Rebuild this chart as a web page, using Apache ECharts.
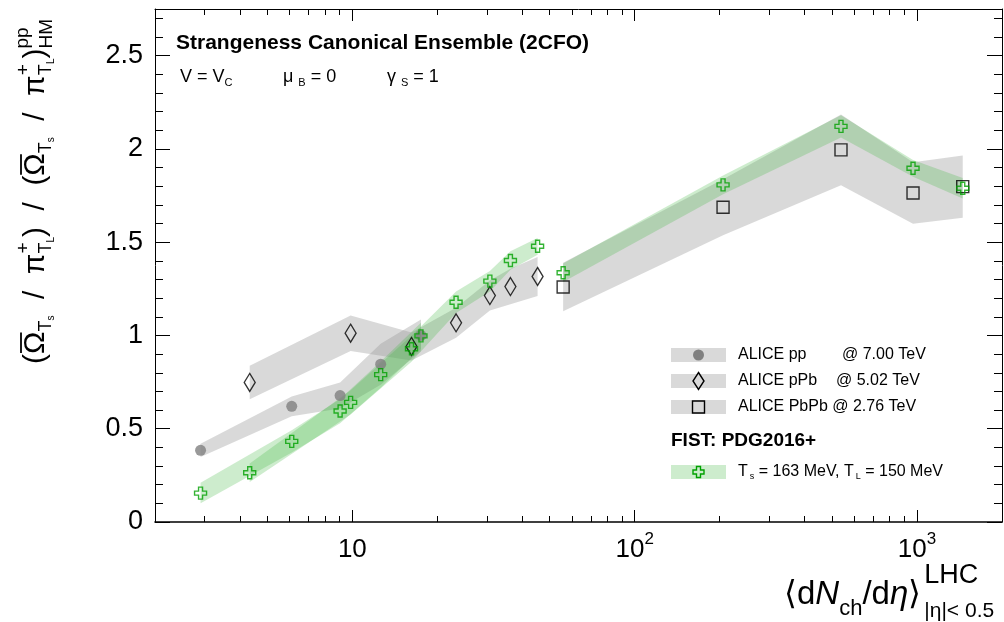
<!DOCTYPE html>
<html>
<head>
<meta charset="utf-8">
<script src="https://cdn.jsdelivr.net/npm/echarts@6/dist/echarts.min.js"></script>
<style>
  html, body { margin: 0; padding: 0; background: #fff; }
  #chart { width: 1004px; height: 622px; }
</style>
</head>
<body>
<div id="chart"></div>
<script>
// ALICE pp @ 7.00 TeV
const ppX   = [2.90, 6.10, 9.05, 12.6, 17.5];
const ppY   = [0.384, 0.620, 0.678, 0.846, 1.000];
const ppErr = [0.035, 0.053, 0.070, 0.110, 0.085];

// ALICE pPb @ 5.02 TeV
const pPbX   = [4.33, 9.86, 16.2, 23.3, 30.7, 36.3, 45.3];
const pPbY   = [0.748, 1.012, 0.941, 1.068, 1.214, 1.262, 1.316];
const pPbErr = [0.090, 0.095, 0.075, 0.080, 0.080, 0.095, 0.105];

// ALICE PbPb @ 2.76 TeV
const pbX   = [55.8, 205.6, 538, 968, 1452];
const pbY   = [1.260, 1.687, 1.995, 1.764, 1.798];
const pbErr = [0.130, 0.150, 0.190, 0.165, 0.167];

// FIST, PDG2016+, Ts = 163 MeV, TL = 150 MeV
const fistPpY     = [0.155, 0.432, 0.595, 0.790, 0.998];
const fistPpErr   = [0.055, 0.060, 0.065, 0.070, 0.070];
const fistPPbY    = [0.264, 0.641, 0.929, 1.178, 1.291, 1.402, 1.478];
const fistPPbErr  = [0.050, 0.065, 0.070, 0.057, 0.055, 0.050, 0.045];
const fistPbY     = [1.336, 1.807, 2.121, 1.896, 1.789];
const fistPbErr   = [0.050, 0.050, 0.060, 0.045, 0.055];

// axis ticks
const xMajorTicks = [10, 100, 1000];
const xMinorTicks = [2, 3, 4, 5, 6, 7, 8, 9, 20, 30, 40, 50, 60, 70, 80, 90,
                     200, 300, 400, 500, 600, 700, 800, 900];
const yMajorTicks = [0, 0.5, 1, 1.5, 2, 2.5];
const yMinorTicks = [0.1, 0.2, 0.3, 0.4, 0.6, 0.7, 0.8, 0.9, 1.1, 1.2, 1.3, 1.4,
                     1.6, 1.7, 1.8, 1.9, 2.1, 2.2, 2.3, 2.4, 2.6, 2.7];

const FONT = '"Liberation Sans", Arial, Helvetica, sans-serif';
const GREY_BAND = 'rgba(150,150,150,0.36)';
const GREEN_BAND = 'rgba(70,185,70,0.27)';
const GREEN = '#00a000';
const CROSS = 'path://M4,0L8,0L8,4L12,4L12,8L8,8L8,12L4,12L4,8L0,8L0,4L4,4Z';

const chart = echarts.init(document.getElementById('chart'), null, { renderer: 'canvas' });

// text layout helpers
const mctx = document.createElement('canvas').getContext('2d');
function textWidth(t, size, italic, bold) {
  mctx.font = (italic ? 'italic ' : '') + (bold ? 'bold ' : '') + size + 'px ' + FONT;
  return mctx.measureText(t).width;
}
function lineOfTokens(x0, y0, toks) {
  const out = [];
  let x = x0, prevX = x0, prevW = 0;
  toks.forEach(k => {
    const w = textWidth(k.t, k.size, k.italic, k.bold);
    let px;
    if (k.stack) {
      px = prevX; prevW = Math.max(prevW, w); x = prevX + prevW;
    } else {
      px = x + (k.gap || 0); prevX = px; prevW = w; x = px + w;
    }
    x += (k.after || 0);
    out.push({
      type: 'text', x: px, y: y0 + (k.dy || 0), silent: true,
      style: {
        text: k.t, fontSize: k.size, fontFamily: FONT,
        fontStyle: k.italic ? 'italic' : 'normal', fontWeight: k.bold ? 'bold' : 'normal',
        fill: '#000', align: 'left', verticalAlign: 'middle'
      }
    });
    if (k.bar) {
      const yb = y0 + (k.dy || 0) - k.size * 0.5;
      out.push({
        type: 'line', silent: true,
        shape: { x1: px + 1, y1: yb, x2: px + w - 1, y2: yb },
        style: { stroke: '#000', lineWidth: 1.8 }
      });
    }
  });
  out.width = x - x0;
  return out;
}

function bandSeries(xs, lo, hi, fill, z) {
  return {
    type: 'custom', xAxisIndex: 0, yAxisIndex: 0, z: z, silent: true, clip: true,
    data: xs.map((x, i) => [x, lo[i], hi[i]]),
    encode: { x: 0, y: [1, 2] },
    renderItem(params, api) {
      if (params.dataIndexInside !== 0) return;
      const n = params.dataInsideLength;
      const top = [], bot = [];
      for (let i = 0; i < n; i++) {
        top.push(api.coord([api.value(0, i), api.value(2, i)]));
        bot.push(api.coord([api.value(0, i), api.value(1, i)]));
      }
      return { type: 'polygon', shape: { points: top.concat(bot.reverse()) }, style: { fill: fill } };
    }
  };
}
const lo = (y, e) => y.map((v, i) => v - e[i]);
const hi = (y, e) => y.map((v, i) => v + e[i]);
const pts = (xs, ys) => xs.map((x, i) => [x, ys[i]]);

function xAxisDef(pos, ticks, len, line, labels) {
  return {
    type: 'log', logBase: 10, min: 2, max: 2000, position: pos,
    axisLine: { show: line, onZero: false, lineStyle: { color: '#000', width: pos === 'bottom' ? 1.6 : 1 } },
    axisTick: { show: true, inside: true, length: len, customValues: ticks, lineStyle: { color: '#000', width: 1 } },
    axisLabel: labels ? {
      show: true, customValues: xMajorTicks, margin: 9, color: '#000',
      fontFamily: FONT, fontSize: 26, lineHeight: 38,
      formatter: v => v === 10 ? '10' : '10{sup|' + Math.round(Math.log10(v)) + '}',
      rich: { sup: { fontSize: 17, fontFamily: FONT, color: '#000', verticalAlign: 'top', lineHeight: 17 } }
    } : { show: false },
    splitLine: { show: false }, minorTick: { show: false }
  };
}
function yAxisDef(pos, ticks, len, line, labels) {
  return {
    type: 'value', min: 0, max: 2.75, position: pos,
    axisLine: { show: line, onZero: false, lineStyle: { color: '#000', width: 1 } },
    axisTick: { show: true, inside: true, length: len, customValues: ticks, lineStyle: { color: '#000', width: 1 } },
    axisLabel: labels ? {
      show: true, customValues: yMajorTicks, margin: 12, color: '#000',
      fontFamily: FONT, fontSize: 27
    } : { show: false },
    splitLine: { show: false }, minorTick: { show: false }
  };
}

// y-axis title: (Ω̄_Ts / π+_TL) / (Ω̄_Ts / π+_TL)^pp_HM
const M = 30, S = 18, SS = 10, P = 19;
const yTitleBase = [
  { t: '(', size: M },
  { t: 'Ω', size: M, bar: true },
  { t: 'T', size: S, dy: 10 },
  { t: 's', size: SS, dy: 15 },
  { t: '/', size: M, pad: true },
  { t: 'π', size: M },
  { t: '+', size: P, dy: -12 },
  { t: 'T', size: S, dy: 10, stack: true },
  { t: 'L', size: SS, dy: 15 },
  { t: ')', size: M },
  { t: '/', size: M, pad: true },
  { t: '(', size: M },
  { t: 'Ω', size: M, bar: true },
  { t: 'T', size: S, dy: 10 },
  { t: 's', size: SS, dy: 15 },
  { t: '/', size: M, pad: true },
  { t: 'π', size: M },
  { t: '+', size: P, dy: -12 },
  { t: 'T', size: S, dy: 10, stack: true },
  { t: 'L', size: SS, dy: 15 },
  { t: ')', size: M },
  { t: 'pp', size: P, dy: -13 },
  { t: 'HM', size: P, dy: 11, stack: true }
];
const Y_TITLE_LEN = 345;
const yNatural = lineOfTokens(0, 0, yTitleBase).width;
const yPad = Math.max(0, (Y_TITLE_LEN - yNatural) / (2 * yTitleBase.filter(k => k.pad).length));
const yTitleToks = yTitleBase.map(k => k.pad ? Object.assign({}, k, { gap: yPad, after: yPad }) : k);

// x-axis title: <dN_ch/dη>^LHC_|η|<0.5
const xTitleToks = [
  { t: '⟨d', size: 33 },
  { t: 'N', size: 33, italic: true },
  { t: 'ch', size: 22, dy: 14 },
  { t: '/d', size: 33 },
  { t: 'η', size: 33, italic: true },
  { t: '⟩', size: 33 },
  { t: 'LHC', size: 27, dy: -19, gap: 3 },
  { t: '|η|< 0.5', size: 21, dy: 16, stack: true }
];

// legend
const LX = 671, LW = 55, LH = 14, TX = 738;
const rows = [355, 381, 407];
const legend = [];
rows.forEach(y => legend.push({ type: 'rect', silent: true, shape: { x: LX, y: y - LH / 2, width: LW, height: LH }, style: { fill: GREY_BAND } }));
legend.push({ type: 'rect', silent: true, shape: { x: LX, y: 472 - LH / 2, width: LW, height: LH }, style: { fill: GREEN_BAND } });
const cx = LX + LW / 2;
legend.push({ type: 'circle', silent: true, shape: { cx: cx, cy: rows[0], r: 5.5 }, style: { fill: '#808080' } });
legend.push({ type: 'polygon', silent: true, shape: { points: [[cx, rows[1] - 8.5], [cx + 5.5, rows[1]], [cx, rows[1] + 8.5], [cx - 5.5, rows[1]]] }, style: { fill: 'none', stroke: '#000', lineWidth: 1.4 } });
legend.push({ type: 'rect', silent: true, shape: { x: cx - 6, y: rows[2] - 6, width: 12, height: 12 }, style: { fill: 'none', stroke: '#000', lineWidth: 1.4 } });
(function () {
  const c = cx, r = 472, a = 2, b = 5.5;
  legend.push({ type: 'polygon', silent: true, shape: { points: [[c - a, r - b], [c + a, r - b], [c + a, r - a], [c + b, r - a], [c + b, r + a], [c + a, r + a], [c + a, r + b], [c - a, r + b], [c - a, r + a], [c - b, r + a], [c - b, r - a], [c - a, r - a]] }, style: { fill: 'none', stroke: GREEN, lineWidth: 1.4 } });
})();
function plainText(x, y, t, size, bold) {
  return { type: 'text', x: x, y: y, silent: true, style: { text: t, fontSize: size, fontFamily: FONT, fontWeight: bold ? 'bold' : 'normal', fill: '#000', align: 'left', verticalAlign: 'middle' } };
}
legend.push(plainText(TX, rows[0], 'ALICE pp', 16));
legend.push(plainText(842, rows[0], '@ 7.00 TeV', 16));
legend.push(plainText(TX, rows[1], 'ALICE pPb', 16));
legend.push(plainText(836, rows[1], '@ 5.02 TeV', 16));
legend.push(plainText(TX, rows[2], 'ALICE PbPb @ 2.76 TeV', 16));
legend.push(plainText(LX, 441, 'FIST: PDG2016+', 19, true));
lineOfTokens(TX, 472, [
  { t: 'T', size: 16 }, { t: 's', size: 9, dy: 5, gap: 2 },
  { t: ' = 163 MeV, T', size: 16 }, { t: 'L', size: 9, dy: 5, gap: 2 },
  { t: ' = 150 MeV', size: 16 }
]).forEach(e => legend.push(e));

// header text
const header = [plainText(176, 43, 'Strangeness Canonical Ensemble (2CFO)', 21, true)];
lineOfTokens(180, 77, [{ t: 'V = V', size: 18 }, { t: 'C', size: 11, dy: 6 }]).forEach(e => header.push(e));
lineOfTokens(283, 77, [{ t: 'μ', size: 18 }, { t: 'B', size: 11, dy: 6, gap: 5 }, { t: ' = 0', size: 18 }]).forEach(e => header.push(e));
lineOfTokens(387, 77, [{ t: 'γ', size: 18 }, { t: 'S', size: 11, dy: 6, gap: 5 }, { t: ' = 1', size: 18 }]).forEach(e => header.push(e));

const option = {
  backgroundColor: '#fff',
  animation: false,
  grid: { left: 155, right: 2, top: 9, bottom: 100, containLabel: false },
  xAxis: [
    xAxisDef('bottom', xMajorTicks, 12, true, true),
    xAxisDef('bottom', xMinorTicks, 6, false, false),
    xAxisDef('top', xMajorTicks, 12, true, false),
    xAxisDef('top', xMinorTicks, 6, false, false)
  ],
  yAxis: [
    yAxisDef('left', yMajorTicks, 15, true, true),
    yAxisDef('left', yMinorTicks, 8, false, false),
    yAxisDef('right', yMajorTicks, 15, true, false),
    yAxisDef('right', yMinorTicks, 8, false, false)
  ],
  series: [
    bandSeries(ppX, lo(ppY, ppErr), hi(ppY, ppErr), GREY_BAND, 1),
    bandSeries(pPbX, lo(pPbY, pPbErr), hi(pPbY, pPbErr), GREY_BAND, 1),
    bandSeries(pbX, lo(pbY, pbErr), hi(pbY, pbErr), GREY_BAND, 1),
    bandSeries(ppX, lo(fistPpY, fistPpErr), hi(fistPpY, fistPpErr), GREEN_BAND, 2),
    bandSeries(pPbX, lo(fistPPbY, fistPPbErr), hi(fistPPbY, fistPPbErr), GREEN_BAND, 2),
    bandSeries(pbX, lo(fistPbY, fistPbErr), hi(fistPbY, fistPbErr), GREEN_BAND, 2),
    {
      name: 'ALICE pp', type: 'scatter', z: 3, silent: true, symbol: 'circle', symbolSize: 11,
      itemStyle: { color: '#808080' }, data: pts(ppX, ppY)
    },
    {
      name: 'ALICE pPb', type: 'scatter', z: 3, silent: true, symbol: 'diamond', symbolSize: [11, 18],
      itemStyle: { color: 'rgba(0,0,0,0)', borderColor: '#000', borderWidth: 1.4 }, data: pts(pPbX, pPbY)
    },
    {
      name: 'ALICE PbPb', type: 'scatter', z: 3, silent: true, symbol: 'rect', symbolSize: 12,
      itemStyle: { color: 'rgba(0,0,0,0)', borderColor: '#000', borderWidth: 1.4 }, data: pts(pbX, pbY)
    },
    {
      name: 'FIST pp', type: 'scatter', z: 4, silent: true, symbol: CROSS, symbolSize: 12,
      itemStyle: { color: 'rgba(0,0,0,0)', borderColor: GREEN, borderWidth: 1.4 }, data: pts(ppX, fistPpY)
    },
    {
      name: 'FIST pPb', type: 'scatter', z: 4, silent: true, symbol: CROSS, symbolSize: 12,
      itemStyle: { color: 'rgba(0,0,0,0)', borderColor: GREEN, borderWidth: 1.4 }, data: pts(pPbX, fistPPbY)
    },
    {
      name: 'FIST PbPb', type: 'scatter', z: 4, silent: true, symbol: CROSS, symbolSize: 12,
      itemStyle: { color: 'rgba(0,0,0,0)', borderColor: GREEN, borderWidth: 1.4 }, data: pts(pbX, fistPbY)
    }
  ],
  graphic: [
    { type: 'group', x: 36, y: 364, rotation: Math.PI / 2, silent: true, children: lineOfTokens(0, 0, yTitleToks) },
    { type: 'group', x: 0, y: 0, silent: true, children: lineOfTokens(784, 595, xTitleToks) },
    { type: 'group', x: 0, y: 0, silent: true, children: header },
    { type: 'group', x: 0, y: 0, silent: true, children: legend }
  ]
};
chart.setOption(option);
</script>
</body>
</html>
